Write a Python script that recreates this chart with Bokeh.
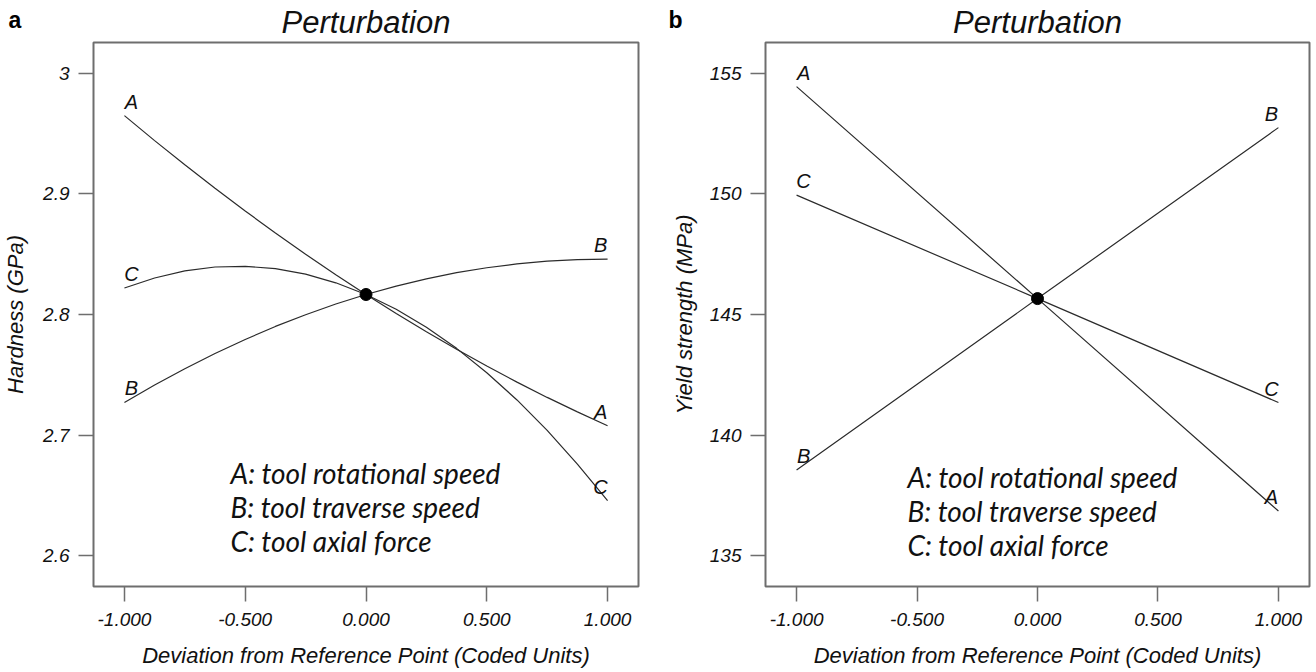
from bokeh.plotting import figure
from bokeh.layouts import row
from bokeh.models import (Range1d, FixedTicker, NumeralTickFormatter,
                          CustomJSTickFormatter, Label, Title, ColumnDataSource)
from bokeh.core.properties import value
from bokeh.embed import file_html
from bokeh.resources import INLINE

# ---------------- data ----------------
# Panel a: Hardness (GPa) perturbation curves
hard_x = [-1.0, -0.875, -0.75, -0.625, -0.5, -0.375, -0.25, -0.125, 0.0,
          0.125, 0.25, 0.375, 0.5, 0.625, 0.75, 0.875, 1.0]
hard_A = [2.9650, 2.9443, 2.9242, 2.9047, 2.8859, 2.8676, 2.8500, 2.8330, 2.8166,
          2.8008, 2.7857, 2.7711, 2.7572, 2.7439, 2.7312, 2.7192, 2.7077]
hard_B = [2.7270, 2.7415, 2.7550, 2.7676, 2.7793, 2.7901, 2.7998, 2.8087, 2.8166,
          2.8236, 2.8296, 2.8347, 2.8388, 2.8420, 2.8443, 2.8456, 2.8460]
hard_C = [2.8220, 2.8303, 2.8362, 2.8394, 2.8400, 2.8380, 2.8335, 2.8263, 2.8166,
          2.8043, 2.7894, 2.7719, 2.7517, 2.7291, 2.7038, 2.6759, 2.6455]
hard_ref_x = [0.0]
hard_ref_y = [2.8166]
hard_ticks = [2.6, 2.7, 2.8, 2.9, 3.0]

# Panel b: Yield strength (MPa) perturbation lines
ys_x = [-1.0, 0.0, 1.0]
ys_A = [154.45, 145.66, 136.85]
ys_B = [138.55, 145.66, 152.75]
ys_C = [149.95, 145.66, 141.35]
ys_ref_x = [0.0]
ys_ref_y = [145.66]
ys_ticks = [135, 140, 145, 150, 155]

x_ticks = [-1.0, -0.5, 0.0, 0.5, 1.0]
curve_names = ["A", "B", "C"]
factor_texts = ["A: tool rotational speed", "B: tool traverse speed", "C: tool axial force"]
panel_letters = ["a", "b"]

FONT = "Liberation Sans"
GRAY = "#6e6e6e"
LINE = "#2b2b2b"


def make_panel(letter, ylabel, xs, series, ref_x, ref_y, yticks, xr, yr,
               width, bl, br, bt, bb, ylab_standoff, legend_pos, yfmt):
    p = figure(width=width, height=672, x_range=Range1d(*xr), y_range=Range1d(*yr),
               output_backend="svg", toolbar_location=None,
               min_border_left=bl, min_border_right=br,
               min_border_top=bt, min_border_bottom=bb)
    p.grid.visible = False
    p.background_fill_color = "white"
    p.border_fill_color = "white"
    p.outline_line_color = GRAY
    p.outline_line_width = 2

    p.title.text = "Perturbation"
    p.title.align = "center"
    p.title.vertical_align = "top"
    p.title.text_font = FONT
    p.title.text_font_style = "italic"
    p.title.text_font_size = "31px"
    p.title.text_color = "#111111"
    p.title.standoff = 2

    for ax in (p.xaxis[0], p.yaxis[0]):
        ax.axis_line_color = None
        ax.major_tick_out = 15
        ax.major_tick_in = 0
        ax.minor_tick_line_color = None
        ax.major_tick_line_color = GRAY
        ax.major_tick_line_width = 1.5
        ax.major_label_text_font = FONT
        ax.major_label_text_font_style = "italic"
        ax.major_label_text_font_size = "19px"
        ax.major_label_text_color = "#111111"
        ax.axis_label_text_font = FONT
        ax.axis_label_text_font_style = "italic"
        ax.axis_label_text_font_size = "22px"
        ax.axis_label_text_color = "#111111"

    p.xaxis.ticker = FixedTicker(ticks=x_ticks)
    p.xaxis.formatter = NumeralTickFormatter(format="0.000")
    p.xaxis.major_label_standoff = 11
    p.xaxis.axis_label = "Deviation from Reference Point (Coded Units)"
    p.xaxis.axis_label_standoff = 14

    p.yaxis.ticker = FixedTicker(ticks=yticks)
    p.yaxis.formatter = yfmt
    p.yaxis.major_label_standoff = 9
    p.yaxis.axis_label = ylabel
    p.yaxis.axis_label_standoff = ylab_standoff

    for name, ys in zip(curve_names, series):
        p.line(xs, ys, line_color=LINE, line_width=1.2)

    p.scatter(ref_x, ref_y, size=12, color="black")

    left_src = ColumnDataSource(dict(x=[xs[0]] * 3, y=[s[0] for s in series], t=curve_names))
    right_src = ColumnDataSource(dict(x=[xs[-1]] * 3, y=[s[-1] for s in series], t=curve_names))
    for src, dx in ((left_src, 7), (right_src, -7)):
        p.text(x="x", y="y", text="t", source=src, x_offset=dx, y_offset=-14,
               text_align="center", text_baseline="middle",
               text_font=value(FONT), text_font_style="italic",
               text_font_size="20px", text_color="#111111")

    lx, ly = legend_pos
    for i, t in enumerate(factor_texts):
        p.add_layout(Label(x=lx, y=ly - i * 34, x_units="screen", y_units="screen",
                           text=t, text_font="Lato", text_font_style="italic",
                           text_font_size="28px", text_color="#111111",
                           text_align="left", text_baseline="middle"))

    # panel letter: a near zero-height title shifted to the top-left corner;
    # the blank lines below lift the letter up to the title row
    p.add_layout(Title(text=letter + "\n\u00a0\n\u00a0", align="left", vertical_align="bottom",
                       offset=-(bl - 8), standoff=-85,
                       text_font=FONT, text_font_style="bold", text_font_size="23px",
                       text_color="black"), "above")
    return p


hard_fmt = CustomJSTickFormatter(code="return String(Math.round(tick * 10) / 10);")
ys_fmt = CustomJSTickFormatter(code="return String(Math.round(tick));")

p1 = make_panel(panel_letters[0], "Hardness (GPa)", hard_x, [hard_A, hard_B, hard_C],
                hard_ref_x, hard_ref_y, hard_ticks,
                (-1.128, 1.128), (2.5743, 3.0257),
                660, 93, 22, 41, 86, 12, (137, 114), hard_fmt)
p2 = make_panel(panel_letters[1], "Yield strength (MPa)", ys_x, [ys_A, ys_B, ys_C],
                ys_ref_x, ys_ref_y, ys_ticks,
                (-1.129, 1.129), (133.72, 156.28),
                656, 105, 7, 42, 85, 10, (142, 110), ys_fmt)

layout = row(p1, p2)
open("out.html", "w").write(file_html(layout, INLINE))
